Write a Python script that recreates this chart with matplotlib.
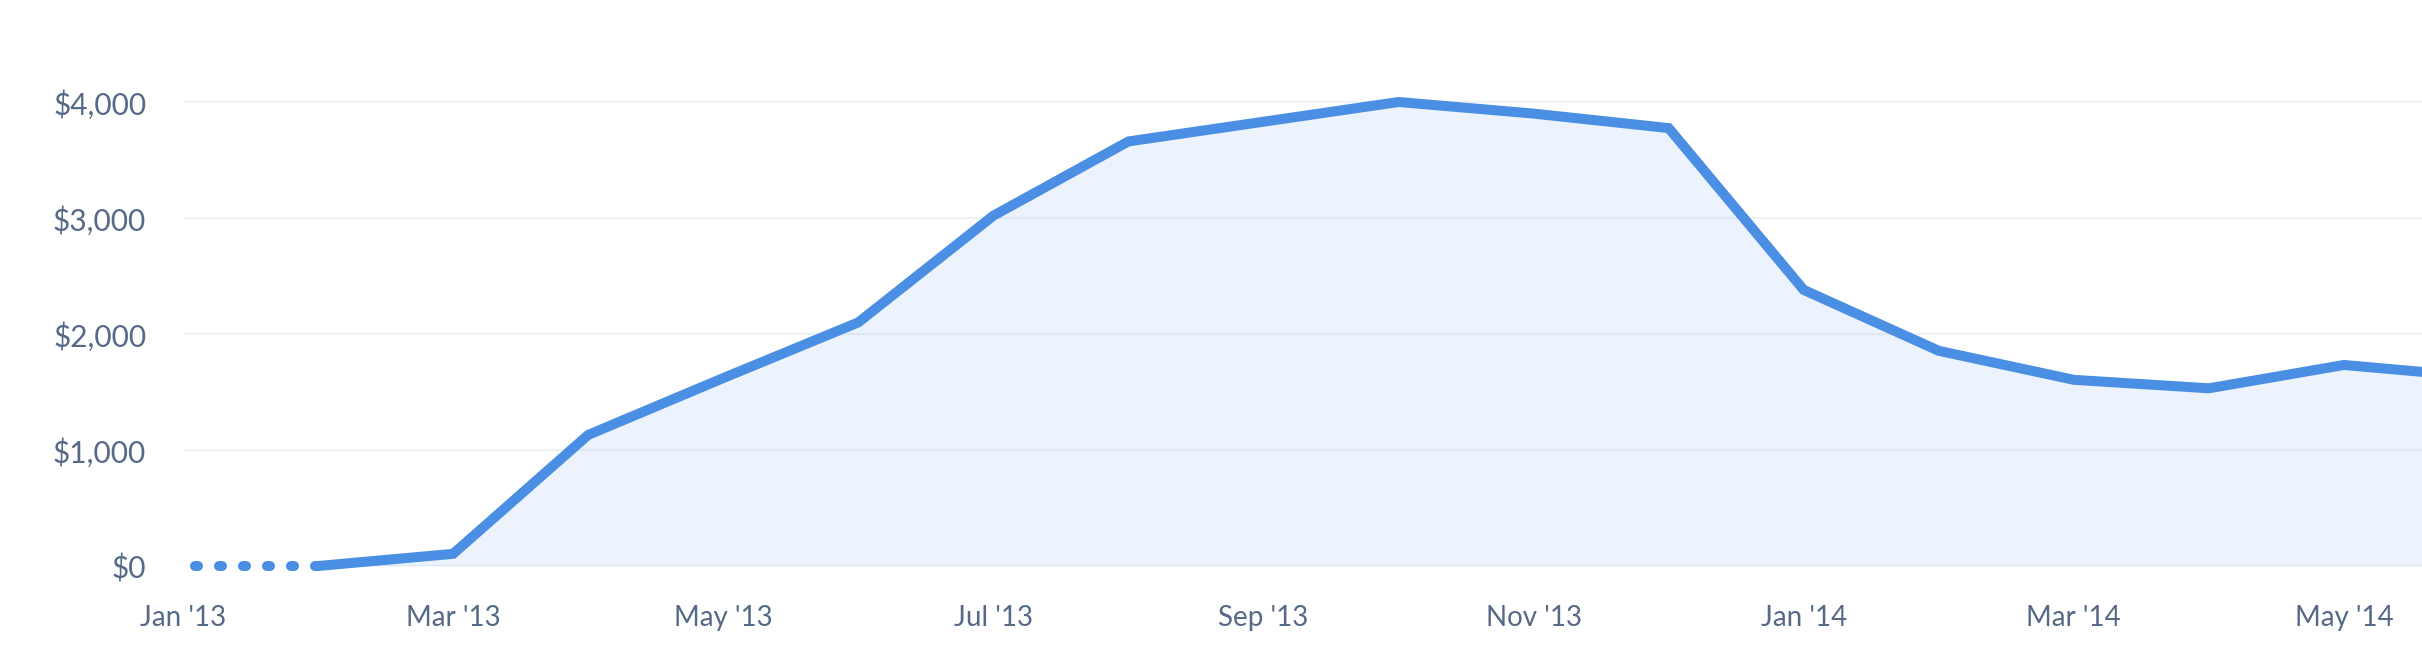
import numpy as np
import matplotlib
matplotlib.use("Agg")
import matplotlib.pyplot as plt
from matplotlib.ticker import FuncFormatter

# monthly revenue, Jan '13 .. Jun '14
months = ["Jan '13", "Feb '13", "Mar '13", "Apr '13", "May '13", "Jun '13",
          "Jul '13", "Aug '13", "Sep '13", "Oct '13", "Nov '13", "Dec '13",
          "Jan '14", "Feb '14", "Mar '14", "Apr '14", "May '14", "Jun '14"]
revenue = [0, 0, 105, 1130, 1620, 2100, 3020, 3660, 3830, 4000, 3900, 3775,
           2380, 1855, 1605, 1532, 1733, 1630]
n_dotted = 2  # first two points drawn as dotted lead-in

y_ticks = [0, 1000, 2000, 3000, 4000]

line_color = "#4A8FE3"
label_color = "#566A88"
grid_color = "#EEF2F6"

plt.rcParams['font.family'] = ['Lato', 'DejaVu Sans']

x = np.arange(len(months))

fig = plt.figure(figsize=(24.22, 6.68), dpi=100)
ax = fig.add_axes([183 / 2422, 102 / 668, 1 - 183 / 2422, 1 - 102 / 668])

ax.set_xlim(0, (2422 - 183) / 135.06)
ax.set_ylim(0, 4000 * 566 / 464)

for v in y_ticks:
    ax.axhline(v, color=grid_color, lw=1.6, zorder=0)

# light area under the solid part
xs = x[n_dotted - 1:]
ys = np.array(revenue[n_dotted - 1:])
ax.fill_between(xs, 0, ys, color=line_color, alpha=0.1, lw=0, zorder=1)

# dotted lead-in
ax.plot(x[:n_dotted], revenue[:n_dotted], color=line_color, lw=7.2,
        linestyle=(1.2, (0.3, 2.1)), dash_capstyle='round',
        clip_on=False, zorder=3)
# solid line
ax.plot(xs, ys, color=line_color, lw=7.2, solid_capstyle='round',
        solid_joinstyle='miter', clip_on=False, zorder=3)

ax.set_yticks(y_ticks)
ax.yaxis.set_major_formatter(FuncFormatter(lambda v, p: "${:,.0f}".format(v)))
ax.set_xticks(x[::2])
ax.set_xticklabels(months[::2])

ax.tick_params(axis='both', length=0, labelcolor=label_color)
ax.tick_params(axis='y', pad=26.5, labelsize=21.5)
ax.tick_params(axis='x', pad=28, labelsize=20)

for s in ax.spines.values():
    s.set_visible(False)
ax.set_facecolor('white')

fig.savefig("out.png", dpi=100, facecolor='white')
